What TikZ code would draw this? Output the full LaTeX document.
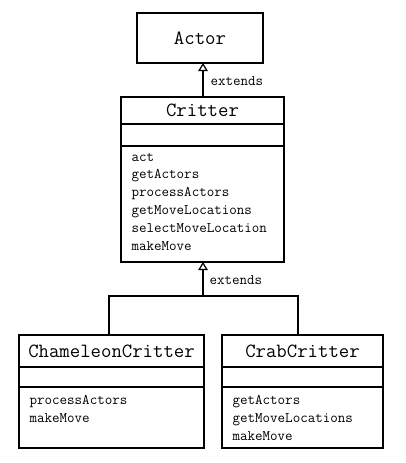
\documentclass[tikz,border=0pt]{standalone}
\usepackage{fontspec}
\usetikzlibrary{arrows.meta}
\begin{document}
\begin{tikzpicture}[x=1pt,y=-1pt,line width=1.2pt,
  box/.style={draw,inner sep=0pt,outer sep=0pt},
  ttl/.style={font=\ttfamily\fontsize{20.2}{22}\selectfont},
  mtd/.style={font=\ttfamily\fontsize{14.6}{16}\selectfont,anchor=base west,inner sep=0pt},
  ext/.style={-{Triangle[open,fill=white,length=8pt,width=9.5pt]}}]
\useasboundingbox (0,0) rectangle (405,463);
% Actor
\node[box,ttl,minimum width=126pt,minimum height=50pt] (actor) at (200,38) {Actor};
% Critter
\node[box,ttl,minimum width=163pt,minimum height=27pt] (crT) at (202.5,110.5) {\raisebox{-1.5pt}{Critter}};
\node[box,minimum width=163pt,minimum height=22pt] (crA) at (202.5,135) {};
\node[box,minimum width=163pt,minimum height=116pt] (crM) at (202.5,204) {};
\foreach \t [count=\i from 0] in {act,getActors,processActors,getMoveLocations,selectMoveLocation,makeMove}
  \node[mtd] (crm\i) at (131,{161+17.8*\i}) {\t};
% ChameleonCritter
\node[box,ttl,minimum width=185pt,minimum height=32pt] (chT) at (111.5,351) {\raisebox{-2.5pt}{ChameleonCritter}};
\node[box,minimum width=185pt,minimum height=20pt] (chA) at (111.5,377) {};
\node[box,minimum width=185pt,minimum height=61pt] (chM) at (111.5,417.5) {};
\foreach \t [count=\i from 0] in {processActors,makeMove}
  \node[mtd] (chm\i) at (29,{404.5+17.8*\i}) {\t};
% CrabCritter
\node[box,ttl,minimum width=161pt,minimum height=32pt] (cbT) at (302.5,351) {\raisebox{-2.5pt}{CrabCritter}};
\node[box,minimum width=161pt,minimum height=20pt] (cbA) at (302.5,377) {};
\node[box,minimum width=161pt,minimum height=61pt] (cbM) at (302.5,417.5) {};
\foreach \t [count=\i from 0] in {getActors,getMoveLocations,makeMove}
  \node[mtd] (cbm\i) at (232,{404.5+17.8*\i}) {\t};
% connectors
\draw[ext] ([xshift=0.5pt]crT.north) -- ([xshift=0.5pt]crT.north |- actor.south);
\node[mtd] (ext1) at (210,85.5) {extends};
\coordinate (j) at (203,296);
\draw ([xshift=-2.5pt]chT.north) |- (j) -| ([xshift=-4.5pt]cbT.north);
\draw[ext] (j) -- (j |- crM.south);
\node[mtd] (ext2) at (209,284.5) {extends};
\end{tikzpicture}
\end{document}
